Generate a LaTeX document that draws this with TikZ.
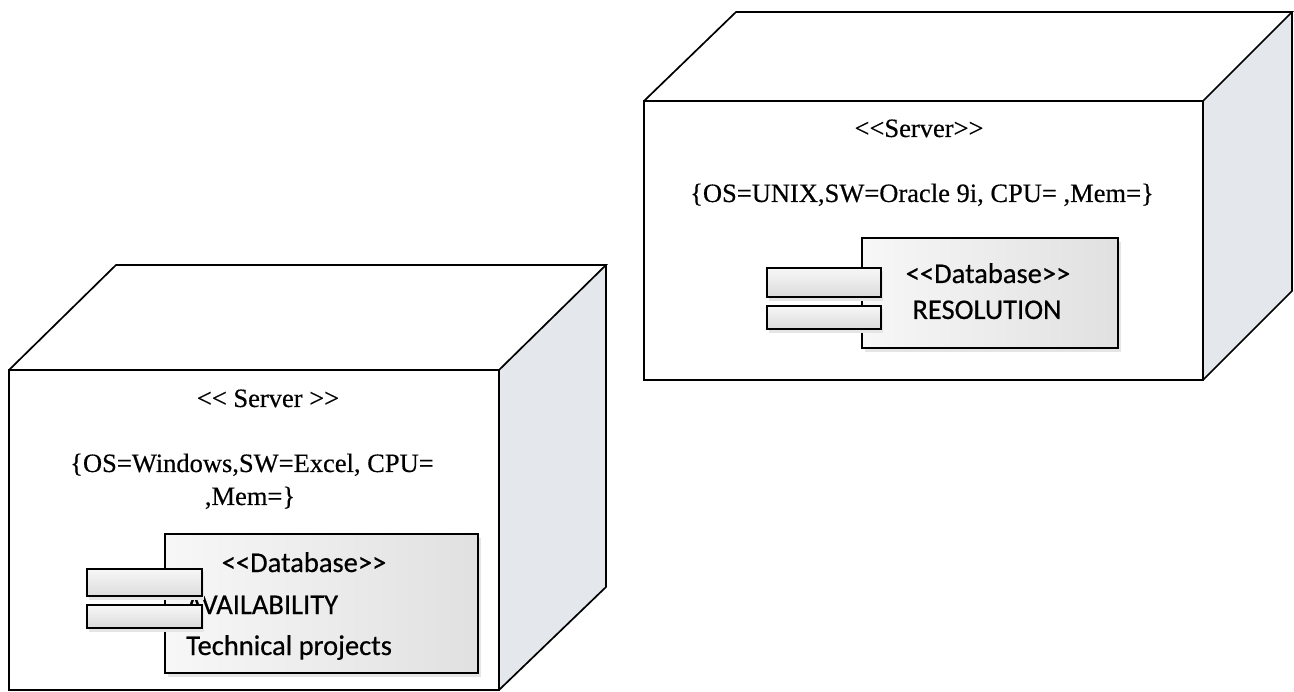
\documentclass[tikz,border=0pt]{standalone}
\usepackage{fontspec}
\setmainfont{Liberation Serif}[Ligatures=TeXOff, UprightFeatures={FakeBold=0.4}]
\newfontfamily\dbfont{Carlito}[Ligatures=TeXOff, UprightFeatures={FakeBold=0.5}]
\definecolor{sideface}{RGB}{228,232,237}
\begin{document}
\begin{tikzpicture}[x=1pt,y=-1pt, line join=miter,
  edge/.style={draw=black, line width=1.7pt},
  srvtext/.style={font=\fontsize{26.5}{30}\selectfont, inner sep=0pt, anchor=base},
  dbtext/.style={font=\dbfont\fontsize{28.5}{32}\selectfont, inner sep=0pt, anchor=base},
  dbbox/.style={draw=black, line width=1.4pt, left color=black!3, right color=black!12},
  portbox/.style={draw=black, line width=1.4pt, top color=black!3, bottom color=black!14},
  pshadow/.style={fill=black!10, draw=none},
]
\useasboundingbox (0,0) rectangle (1294,692);

% ---------------- left cube ----------------
\coordinate (LA) at (9,370);
\coordinate (LB) at (499,370);
\coordinate (LC) at (499,690);
\coordinate (LD) at (9,690);
\coordinate (LE) at (116,265);
\coordinate (LF) at (606,265);
\coordinate (LG) at (606,587);
\fill[white] (LA) -- (LE) -- (LF) -- (LB) -- cycle;
\fill[sideface] (LB) -- (LF) -- (LG) -- (LC) -- cycle;
\fill[white] (LA) rectangle (LC);
\draw[edge] (LA) -- (LE) -- (LF) -- (LB);
\draw[edge] (LF) -- (LG) -- (LC);
\draw[edge] (LA) -- (LB) -- (LC) -- (LD) -- cycle;

% ---------------- right cube ----------------
\coordinate (RA) at (644,101);
\coordinate (RB) at (1203,101);
\coordinate (RC) at (1203,380);
\coordinate (RD) at (644,380);
\coordinate (RE) at (736,12);
\coordinate (RF) at (1292,12);
\coordinate (RG) at (1292,291);
\fill[white] (RA) -- (RE) -- (RF) -- (RB) -- cycle;
\fill[sideface] (RB) -- (RF) -- (RG) -- (RC) -- cycle;
\fill[white] (RA) rectangle (RC);
\draw[edge] (RA) -- (RE) -- (RF) -- (RB);
\draw[edge] (RF) -- (RG) -- (RC);
\draw[edge] (RA) -- (RB) -- (RC) -- (RD) -- cycle;

% ---------------- left texts ----------------
\node[srvtext] (ls) at (268,407) {<< Server >>};
\node[srvtext] (lp1) at (252,472) {\{OS=Windows,SW=Excel, CPU=};
\node[srvtext] (lp2) at (250,505) {,Mem=\}};

% left database component
\fill[pshadow] (168,538) rectangle (481,677);
\path[dbbox] (165,534) rectangle (478,673);
\node[dbtext] (ldb) at (304,572) {<<Database>>};
\node[dbtext, anchor=base west] (lav) at (186,614) {AVAILABILITY};
\node[dbtext, anchor=base west] (ltp) at (186,655) {Technical projects};
\fill[pshadow] (89,572) rectangle (204,600);
\path[portbox] (87,569) rectangle (202,596);
\fill[pshadow] (89,608) rectangle (204,632);
\path[portbox] (87,605) rectangle (202,628);

% ---------------- right texts ----------------
\node[srvtext] (rs) at (919,137) {<<Server>>};
\node[srvtext] (rp) at (922,202) {\{OS=UNIX,SW=Oracle 9i, CPU= ,Mem=\}};

% right database component
\fill[pshadow] (865,242) rectangle (1121,352);
\path[dbbox] (862,238) rectangle (1118,348);
\node[dbtext] (rdb) at (988,283) {<<Database>>};
\node[dbtext] (rres) at (987,319) {RESOLUTION};
\fill[pshadow] (769,271) rectangle (883,301);
\path[portbox] (767,268) rectangle (881,297);
\fill[pshadow] (769,309) rectangle (883,333);
\path[portbox] (767,306) rectangle (881,329);
\end{tikzpicture}
\end{document}
